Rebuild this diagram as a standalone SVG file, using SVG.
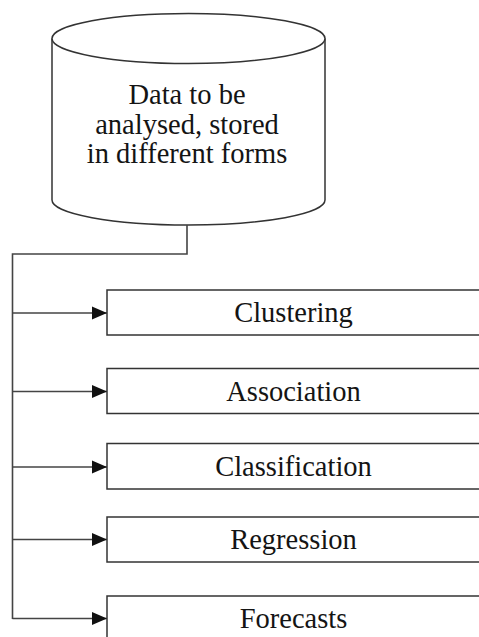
<svg xmlns="http://www.w3.org/2000/svg" width="479" height="637" viewBox="0 0 479 637">
<style>
.shape{fill:#fff;stroke:#333;stroke-width:1.5}
.conn{fill:none;stroke:#444;stroke-width:1.6}
</style>
<defs>
<marker id="arr" markerUnits="userSpaceOnUse" markerWidth="16" markerHeight="14" refX="15" refY="7" orient="auto">
<path d="M0,0.5 L15,7 L0,13.5 Z" fill="#111"/>
</marker>
</defs>
<rect width="479" height="637" fill="#fff"/>
<g font-family="Liberation Serif, Times New Roman, serif" font-size="28.5" fill="#141414" text-anchor="middle">
<g id="data-store">
<path class="shape" d="M52,38.5 L52,200 A136.5,25 0 0 0 325,200 L325,38.5"/>
<ellipse class="shape" cx="188.5" cy="38.5" rx="136.5" ry="25"/>
<text x="187" y="104">Data to be</text>
<text x="187" y="133.5">analysed, stored</text>
<text x="187" y="163">in different forms</text>
</g>
<g id="connectors">
<path class="conn" d="M187,225 L187,254 L12.5,254 L12.5,619"/>
<line class="conn" x1="12.5" y1="313" x2="107" y2="313" marker-end="url(#arr)"/>
<line class="conn" x1="12.5" y1="391.5" x2="107" y2="391.5" marker-end="url(#arr)"/>
<line class="conn" x1="12.5" y1="467" x2="107" y2="467" marker-end="url(#arr)"/>
<line class="conn" x1="12.5" y1="539.5" x2="107" y2="539.5" marker-end="url(#arr)"/>
<line class="conn" x1="12.5" y1="618.5" x2="107" y2="618.5" marker-end="url(#arr)"/>
</g>
<g id="clustering">
<rect class="shape" x="107" y="290" width="380" height="45"/>
<text x="293.5" y="322">Clustering</text>
</g>
<g id="association">
<rect class="shape" x="107" y="368.5" width="380" height="45"/>
<text x="293.5" y="400.5">Association</text>
</g>
<g id="classification">
<rect class="shape" x="107" y="443.5" width="380" height="45.5"/>
<text x="293.5" y="476">Classification</text>
</g>
<g id="regression">
<rect class="shape" x="107" y="517" width="380" height="45"/>
<text x="293.5" y="549">Regression</text>
</g>
<g id="forecasts">
<rect class="shape" x="107" y="596" width="380" height="50"/>
<text x="293.5" y="627.5">Forecasts</text>
</g>
</g>
</svg>
